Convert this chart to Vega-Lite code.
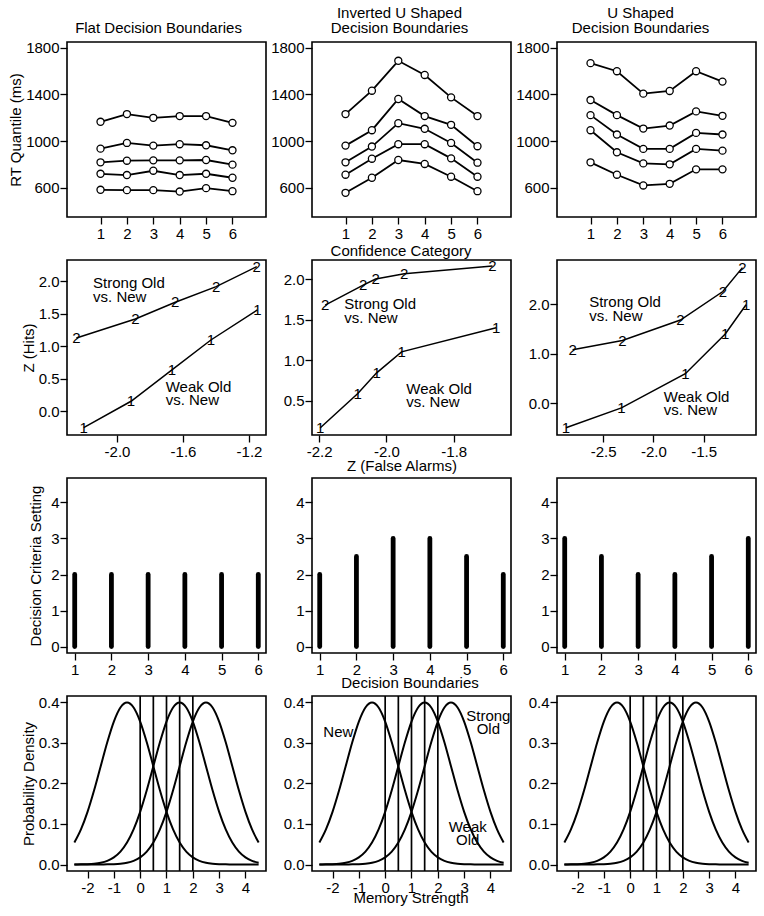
{
"$schema":"https://vega.github.io/schema/vega-lite/v6.json",
"background":"white",
"padding":{"left":7,"top":4,"right":0,"bottom":0},
"columns":3,
"spacing":{"row":43,"column":46},
"bounds":"flush",
"config":{
 "view":{"stroke":"black","strokeWidth":1.6},
 "font":"Liberation Sans",
 "axis":{"domain":false,"grid":false,"ticks":true,"tickColor":"black","tickWidth":1.3,"tickSize":7,"labelFont":"Liberation Sans","labelFontSize":15,"labelColor":"black","labelPadding":2,"labelOverlap":false,"labelFlush":false,"titleFont":"Liberation Sans","titleFontSize":15,"titleFontWeight":"normal","titleColor":"black","titleBaseline":"alphabetic"},
 "axisY":{"labelPadding":1},
 "title":{"font":"Liberation Sans","fontSize":15,"fontWeight":"normal","color":"black","offset":5,"lineHeight":15,"baseline":"bottom","anchor":"middle"},
 "text":{"font":"Liberation Sans","fontSize":15,"color":"black"}
},
"datasets":{
 "rt":[
  {"p":"flat","q":5,"x":1,"y":1165},{"p":"flat","q":5,"x":2,"y":1231},{"p":"flat","q":5,"x":3,"y":1199},{"p":"flat","q":5,"x":4,"y":1214},{"p":"flat","q":5,"x":5,"y":1214},{"p":"flat","q":5,"x":6,"y":1156},
  {"p":"flat","q":4,"x":1,"y":935},{"p":"flat","q":4,"x":2,"y":984},{"p":"flat","q":4,"x":3,"y":961},{"p":"flat","q":4,"x":4,"y":973},{"p":"flat","q":4,"x":5,"y":964},{"p":"flat","q":4,"x":6,"y":921},
  {"p":"flat","q":3,"x":1,"y":818},{"p":"flat","q":3,"x":2,"y":832},{"p":"flat","q":3,"x":3,"y":835},{"p":"flat","q":3,"x":4,"y":835},{"p":"flat","q":3,"x":5,"y":838},{"p":"flat","q":3,"x":6,"y":798},
  {"p":"flat","q":2,"x":1,"y":720},{"p":"flat","q":2,"x":2,"y":709},{"p":"flat","q":2,"x":3,"y":746},{"p":"flat","q":2,"x":4,"y":709},{"p":"flat","q":2,"x":5,"y":720},{"p":"flat","q":2,"x":6,"y":686},
  {"p":"flat","q":1,"x":1,"y":583},{"p":"flat","q":1,"x":2,"y":580},{"p":"flat","q":1,"x":3,"y":580},{"p":"flat","q":1,"x":4,"y":568},{"p":"flat","q":1,"x":5,"y":597},{"p":"flat","q":1,"x":6,"y":571},
  {"p":"inv","q":5,"x":1,"y":1231},{"p":"inv","q":5,"x":2,"y":1431},{"p":"inv","q":5,"x":3,"y":1687},{"p":"inv","q":5,"x":4,"y":1566},{"p":"inv","q":5,"x":5,"y":1374},{"p":"inv","q":5,"x":6,"y":1214},
  {"p":"inv","q":4,"x":1,"y":961},{"p":"inv","q":4,"x":2,"y":1093},{"p":"inv","q":4,"x":3,"y":1360},{"p":"inv","q":4,"x":4,"y":1214},{"p":"inv","q":4,"x":5,"y":1139},{"p":"inv","q":4,"x":6,"y":956},
  {"p":"inv","q":3,"x":1,"y":818},{"p":"inv","q":3,"x":2,"y":953},{"p":"inv","q":3,"x":3,"y":1153},{"p":"inv","q":3,"x":4,"y":1105},{"p":"inv","q":3,"x":5,"y":984},{"p":"inv","q":3,"x":6,"y":815},
  {"p":"inv","q":2,"x":1,"y":712},{"p":"inv","q":2,"x":2,"y":849},{"p":"inv","q":2,"x":3,"y":973},{"p":"inv","q":2,"x":4,"y":973},{"p":"inv","q":2,"x":5,"y":852},{"p":"inv","q":2,"x":6,"y":695},
  {"p":"inv","q":1,"x":1,"y":557},{"p":"inv","q":1,"x":2,"y":686},{"p":"inv","q":1,"x":3,"y":838},{"p":"inv","q":1,"x":4,"y":804},{"p":"inv","q":1,"x":5,"y":695},{"p":"inv","q":1,"x":6,"y":571},
  {"p":"u","q":5,"x":1,"y":1667},{"p":"u","q":5,"x":2,"y":1598},{"p":"u","q":5,"x":3,"y":1406},{"p":"u","q":5,"x":4,"y":1429},{"p":"u","q":5,"x":5,"y":1598},{"p":"u","q":5,"x":6,"y":1509},
  {"p":"u","q":4,"x":1,"y":1351},{"p":"u","q":4,"x":2,"y":1222},{"p":"u","q":4,"x":3,"y":1107},{"p":"u","q":4,"x":4,"y":1133},{"p":"u","q":4,"x":5,"y":1254},{"p":"u","q":4,"x":6,"y":1216},
  {"p":"u","q":3,"x":1,"y":1222},{"p":"u","q":3,"x":2,"y":1056},{"p":"u","q":3,"x":3,"y":933},{"p":"u","q":3,"x":4,"y":933},{"p":"u","q":3,"x":5,"y":1070},{"p":"u","q":3,"x":6,"y":1056},
  {"p":"u","q":2,"x":1,"y":1093},{"p":"u","q":2,"x":2,"y":904},{"p":"u","q":2,"x":3,"y":809},{"p":"u","q":2,"x":4,"y":801},{"p":"u","q":2,"x":5,"y":933},{"p":"u","q":2,"x":6,"y":918},
  {"p":"u","q":1,"x":1,"y":818},{"p":"u","q":1,"x":2,"y":712},{"p":"u","q":1,"x":3,"y":620},{"p":"u","q":1,"x":4,"y":634},{"p":"u","q":1,"x":5,"y":758},{"p":"u","q":1,"x":6,"y":758}
 ],
 "roc":[
  {"p":"flat","c":"2","x":-2.246,"y":1.128},{"p":"flat","c":"2","x":-1.889,"y":1.421},{"p":"flat","c":"2","x":-1.647,"y":1.677},{"p":"flat","c":"2","x":-1.399,"y":1.918},{"p":"flat","c":"2","x":-1.153,"y":2.226},
  {"p":"flat","c":"1","x":-2.202,"y":-0.251},{"p":"flat","c":"1","x":-1.915,"y":0.154},{"p":"flat","c":"1","x":-1.667,"y":0.636},{"p":"flat","c":"1","x":-1.431,"y":1.097},{"p":"flat","c":"1","x":-1.149,"y":1.559},
  {"p":"inv","c":"2","x":-2.182,"y":1.682},{"p":"inv","c":"2","x":-2.069,"y":1.93},{"p":"inv","c":"2","x":-2.032,"y":2.004},{"p":"inv","c":"2","x":-1.947,"y":2.07},{"p":"inv","c":"2","x":-1.685,"y":2.165},
  {"p":"inv","c":"1","x":-2.197,"y":0.161},{"p":"inv","c":"1","x":-2.085,"y":0.587},{"p":"inv","c":"1","x":-2.029,"y":0.843},{"p":"inv","c":"1","x":-1.955,"y":1.103},{"p":"inv","c":"1","x":-1.674,"y":1.401},
  {"p":"u","c":"2","x":-2.804,"y":1.077},{"p":"u","c":"2","x":-2.309,"y":1.264},{"p":"u","c":"2","x":-1.731,"y":1.679},{"p":"u","c":"2","x":-1.309,"y":2.254},{"p":"u","c":"2","x":-1.114,"y":2.736},
  {"p":"u","c":"1","x":-2.87,"y":-0.495},{"p":"u","c":"1","x":-2.318,"y":-0.094},{"p":"u","c":"1","x":-1.682,"y":0.595},{"p":"u","c":"1","x":-1.285,"y":1.398},{"p":"u","c":"1","x":-1.078,"y":1.987}
 ],
 "roclab":[
  {"p":"flat","x":-2.145,"y":2.077,"t":"Strong Old\nvs. New"},{"p":"flat","x":-1.705,"y":0.486,"t":"Weak Old\nvs. New"},
  {"p":"inv","x":-2.125,"y":1.777,"t":"Strong Old\nvs. New"},{"p":"inv","x":-1.941,"y":0.731,"t":"Weak Old\nvs. New"},
  {"p":"u","x":-2.639,"y":2.174,"t":"Strong Old\nvs. New"},{"p":"u","x":-1.896,"y":0.268,"t":"Weak Old\nvs. New"}
 ],
 "crit":[
  {"p":"flat","x":1,"v":2},{"p":"flat","x":2,"v":2},{"p":"flat","x":3,"v":2},{"p":"flat","x":4,"v":2},{"p":"flat","x":5,"v":2},{"p":"flat","x":6,"v":2},
  {"p":"inv","x":1,"v":2},{"p":"inv","x":2,"v":2.5},{"p":"inv","x":3,"v":3},{"p":"inv","x":4,"v":3},{"p":"inv","x":5,"v":2.5},{"p":"inv","x":6,"v":2},
  {"p":"u","x":1,"v":3},{"p":"u","x":2,"v":2.5},{"p":"u","x":3,"v":2},{"p":"u","x":4,"v":2},{"p":"u","x":5,"v":2.5},{"p":"u","x":6,"v":3}
 ],
 "dens":[
  {"d":"new","x":-2.5,"y":0.05399},{"d":"new","x":-2.25,"y":0.08628},{"d":"new","x":-2,"y":0.12952},{"d":"new","x":-1.75,"y":0.18265},{"d":"new","x":-1.5,"y":0.24197},{"d":"new","x":-1.25,"y":0.30114},{"d":"new","x":-1,"y":0.35207},{"d":"new","x":-0.75,"y":0.38667},{"d":"new","x":-0.5,"y":0.39894},{"d":"new","x":-0.25,"y":0.38667},{"d":"new","x":0,"y":0.35207},{"d":"new","x":0.25,"y":0.30114},{"d":"new","x":0.5,"y":0.24197},{"d":"new","x":0.75,"y":0.18265},{"d":"new","x":1,"y":0.12952},{"d":"new","x":1.25,"y":0.08628},{"d":"new","x":1.5,"y":0.05399},{"d":"new","x":1.75,"y":0.03174},{"d":"new","x":2,"y":0.01753},{"d":"new","x":2.25,"y":0.00909},{"d":"new","x":2.5,"y":0.00443},{"d":"new","x":2.75,"y":0.00203},{"d":"new","x":3,"y":0.00087},{"d":"new","x":3.25,"y":0.00035},{"d":"new","x":3.5,"y":0.00013},{"d":"new","x":3.75,"y":0.00005},{"d":"new","x":4,"y":0.00002},{"d":"new","x":4.25,"y":0.000005},{"d":"new","x":4.5,"y":0.0000015},
  {"d":"weak","x":-2.5,"y":0.00013},{"d":"weak","x":-2.25,"y":0.00035},{"d":"weak","x":-2,"y":0.00087},{"d":"weak","x":-1.75,"y":0.00203},{"d":"weak","x":-1.5,"y":0.00443},{"d":"weak","x":-1.25,"y":0.00909},{"d":"weak","x":-1,"y":0.01753},{"d":"weak","x":-0.75,"y":0.03174},{"d":"weak","x":-0.5,"y":0.05399},{"d":"weak","x":-0.25,"y":0.08628},{"d":"weak","x":0,"y":0.12952},{"d":"weak","x":0.25,"y":0.18265},{"d":"weak","x":0.5,"y":0.24197},{"d":"weak","x":0.75,"y":0.30114},{"d":"weak","x":1,"y":0.35207},{"d":"weak","x":1.25,"y":0.38667},{"d":"weak","x":1.5,"y":0.39894},{"d":"weak","x":1.75,"y":0.38667},{"d":"weak","x":2,"y":0.35207},{"d":"weak","x":2.25,"y":0.30114},{"d":"weak","x":2.5,"y":0.24197},{"d":"weak","x":2.75,"y":0.18265},{"d":"weak","x":3,"y":0.12952},{"d":"weak","x":3.25,"y":0.08628},{"d":"weak","x":3.5,"y":0.05399},{"d":"weak","x":3.75,"y":0.03174},{"d":"weak","x":4,"y":0.01753},{"d":"weak","x":4.25,"y":0.00909},{"d":"weak","x":4.5,"y":0.00443},
  {"d":"strong","x":-2.5,"y":0.0000015},{"d":"strong","x":-2.25,"y":0.000005},{"d":"strong","x":-2,"y":0.000016},{"d":"strong","x":-1.75,"y":0.00005},{"d":"strong","x":-1.5,"y":0.00013},{"d":"strong","x":-1.25,"y":0.00035},{"d":"strong","x":-1,"y":0.00087},{"d":"strong","x":-0.75,"y":0.00203},{"d":"strong","x":-0.5,"y":0.00443},{"d":"strong","x":-0.25,"y":0.00909},{"d":"strong","x":0,"y":0.01753},{"d":"strong","x":0.25,"y":0.03174},{"d":"strong","x":0.5,"y":0.05399},{"d":"strong","x":0.75,"y":0.08628},{"d":"strong","x":1,"y":0.12952},{"d":"strong","x":1.25,"y":0.18265},{"d":"strong","x":1.5,"y":0.24197},{"d":"strong","x":1.75,"y":0.30114},{"d":"strong","x":2,"y":0.35207},{"d":"strong","x":2.25,"y":0.38667},{"d":"strong","x":2.5,"y":0.39894},{"d":"strong","x":2.75,"y":0.38667},{"d":"strong","x":3,"y":0.35207},{"d":"strong","x":3.25,"y":0.30114},{"d":"strong","x":3.5,"y":0.24197},{"d":"strong","x":3.75,"y":0.18265},{"d":"strong","x":4,"y":0.12952},{"d":"strong","x":4.25,"y":0.08628},{"d":"strong","x":4.5,"y":0.05399}
 ],
 "bounds":[{"x":0},{"x":0.5},{"x":1},{"x":1.5},{"x":2}],
 "denslab":[{"x":-1.78,"y":0.3425,"t":"New"},{"x":3.92,"y":0.3836,"t":"Strong\nOld"},{"x":3.135,"y":0.1084,"t":"Weak\nOld"}]
},
"concat":[
 {"width":199,"height":175,"title":{"text":"Flat Decision Boundaries","dx":-8},
  "data":{"name":"rt"},"transform":[{"filter":"datum.p==='flat'"}],
  "encoding":{
   "x":{"field":"x","type":"quantitative","scale":{"domain":[-0.27,7.27],"nice":false,"zero":false},"axis":{"values":[1,2,3,4,5,6],"format":"d","title":null}},
   "y":{"field":"y","type":"quantitative","scale":{"domain":[350,1848],"nice":false,"zero":false},"axis":{"values":[600,1000,1400,1800],"format":"d","title":"RT Quantile (ms)","titleX":-47}}},
  "layer":[
   {"mark":{"type":"line","color":"black","strokeWidth":1.8},"encoding":{"detail":{"field":"q","type":"nominal"}}},
   {"mark":{"type":"point","shape":"circle","filled":true,"fill":"white","stroke":"black","strokeWidth":1.3,"size":50,"opacity":1}}
  ]},
 {"width":199,"height":175,"title":{"text":["Inverted U Shaped","Decision Boundaries"],"dx":-12},
  "data":{"name":"rt"},"transform":[{"filter":"datum.p==='inv'"}],
  "encoding":{
   "x":{"field":"x","type":"quantitative","scale":{"domain":[-0.27,7.27],"nice":false,"zero":false},"axis":{"values":[1,2,3,4,5,6],"format":"d","title":"Confidence Category","titleX":88.5,"titleY":38}},
   "y":{"field":"y","type":"quantitative","scale":{"domain":[350,1848],"nice":false,"zero":false},"axis":{"values":[600,1000,1400,1800],"format":"d","title":null}}},
  "layer":[
   {"mark":{"type":"line","color":"black","strokeWidth":1.8},"encoding":{"detail":{"field":"q","type":"nominal"}}},
   {"mark":{"type":"point","shape":"circle","filled":true,"fill":"white","stroke":"black","strokeWidth":1.3,"size":50,"opacity":1}}
  ]},
 {"width":199,"height":175,"title":{"text":["U Shaped","Decision Boundaries"],"dx":-16},
  "data":{"name":"rt"},"transform":[{"filter":"datum.p==='u'"}],
  "encoding":{
   "x":{"field":"x","type":"quantitative","scale":{"domain":[-0.27,7.27],"nice":false,"zero":false},"axis":{"values":[1,2,3,4,5,6],"format":"d","title":null}},
   "y":{"field":"y","type":"quantitative","scale":{"domain":[350,1848],"nice":false,"zero":false},"axis":{"values":[600,1000,1400,1800],"format":"d","title":null}}},
  "layer":[
   {"mark":{"type":"line","color":"black","strokeWidth":1.8},"encoding":{"detail":{"field":"q","type":"nominal"}}},
   {"mark":{"type":"point","shape":"circle","filled":true,"fill":"white","stroke":"black","strokeWidth":1.3,"size":50,"opacity":1}}
  ]},
 {"width":199,"height":175,
  "encoding":{
   "x":{"field":"x","type":"quantitative","scale":{"domain":[-2.303,-1.097],"nice":false,"zero":false},"axis":{"values":[-2.0,-1.6,-1.2],"format":".1f","labelExpr":"replace(datum.label,'\u2212','-')","title":null}},
   "y":{"field":"y","type":"quantitative","scale":{"domain":[-0.365,2.328],"nice":false,"zero":false},"axis":{"values":[0,0.5,1,1.5,2],"format":".1f","title":"Z (Hits)","titleX":-33.7}}},
  "layer":[
   {"data":{"name":"roc"},"transform":[{"filter":"datum.p==='flat'"}],"mark":{"type":"line","color":"black","strokeWidth":1.5},"encoding":{"detail":{"field":"c","type":"nominal"}}},
   {"data":{"name":"roc"},"transform":[{"filter":"datum.p==='flat'"}],"mark":{"type":"text","align":"center","baseline":"middle"},"encoding":{"text":{"field":"c","type":"nominal"}}},
   {"data":{"name":"roclab"},"transform":[{"filter":"datum.p==='flat'"}],"mark":{"type":"text","align":"left","baseline":"top","lineBreak":"\n","lineHeight":13.4},"encoding":{"text":{"field":"t","type":"nominal"}}}
  ]},
 {"width":199,"height":175,
  "encoding":{
   "x":{"field":"x","type":"quantitative","scale":{"domain":[-2.221,-1.63],"nice":false,"zero":false},"axis":{"values":[-2.2,-2.0,-1.8],"format":".1f","labelExpr":"replace(datum.label,'\u2212','-')","title":"Z (False Alarms)","titleX":89.5,"titleY":35}},
   "y":{"field":"y","type":"quantitative","scale":{"domain":[0.074,2.24],"nice":false,"zero":false},"axis":{"values":[0.5,1,1.5,2],"format":".1f","title":null}}},
  "layer":[
   {"data":{"name":"roc"},"transform":[{"filter":"datum.p==='inv'"}],"mark":{"type":"line","color":"black","strokeWidth":1.5},"encoding":{"detail":{"field":"c","type":"nominal"}}},
   {"data":{"name":"roc"},"transform":[{"filter":"datum.p==='inv'"}],"mark":{"type":"text","align":"center","baseline":"middle"},"encoding":{"text":{"field":"c","type":"nominal"}}},
   {"data":{"name":"roclab"},"transform":[{"filter":"datum.p==='inv'"}],"mark":{"type":"text","align":"left","baseline":"top","lineBreak":"\n","lineHeight":13.4},"encoding":{"text":{"field":"t","type":"nominal"}}}
  ]},
 {"width":199,"height":175,
  "encoding":{
   "x":{"field":"x","type":"quantitative","scale":{"domain":[-2.959,-0.979],"nice":false,"zero":false},"axis":{"values":[-2.5,-2.0,-1.5],"format":".1f","labelExpr":"replace(datum.label,'\u2212','-')","title":null}},
   "y":{"field":"y","type":"quantitative","scale":{"domain":[-0.642,2.89],"nice":false,"zero":false},"axis":{"values":[0,1,2],"format":".1f","title":null}}},
  "layer":[
   {"data":{"name":"roc"},"transform":[{"filter":"datum.p==='u'"}],"mark":{"type":"line","color":"black","strokeWidth":1.5},"encoding":{"detail":{"field":"c","type":"nominal"}}},
   {"data":{"name":"roc"},"transform":[{"filter":"datum.p==='u'"}],"mark":{"type":"text","align":"center","baseline":"middle"},"encoding":{"text":{"field":"c","type":"nominal"}}},
   {"data":{"name":"roclab"},"transform":[{"filter":"datum.p==='u'"}],"mark":{"type":"text","align":"left","baseline":"top","lineBreak":"\n","lineHeight":13.4},"encoding":{"text":{"field":"t","type":"nominal"}}}
  ]},
 {"width":199,"height":175,
  "data":{"name":"crit"},"transform":[{"filter":"datum.p==='flat'"}],
  "mark":{"type":"rule","color":"black","strokeWidth":4.8,"strokeCap":"round"},
  "encoding":{
   "x":{"field":"x","type":"quantitative","scale":{"domain":[0.79,6.21],"nice":false,"zero":false},"axis":{"values":[1,2,3,4,5,6],"format":"d","title":null}},
   "y":{"field":"v","type":"quantitative","scale":{"domain":[-0.18,4.68],"nice":false,"zero":false},"axis":{"values":[0,1,2,3,4],"format":"d","title":"Decision Criteria Setting","titleX":-27}},
   "y2":{"datum":0}}},
 {"width":199,"height":175,
  "data":{"name":"crit"},"transform":[{"filter":"datum.p==='inv'"}],
  "mark":{"type":"rule","color":"black","strokeWidth":4.8,"strokeCap":"round"},
  "encoding":{
   "x":{"field":"x","type":"quantitative","scale":{"domain":[0.79,6.21],"nice":false,"zero":false},"axis":{"values":[1,2,3,4,5,6],"format":"d","title":"Decision Boundaries","titleX":97.5,"titleY":34}},
   "y":{"field":"v","type":"quantitative","scale":{"domain":[-0.18,4.68],"nice":false,"zero":false},"axis":{"values":[0,1,2,3,4],"format":"d","title":null}},
   "y2":{"datum":0}}},
 {"width":199,"height":175,
  "data":{"name":"crit"},"transform":[{"filter":"datum.p==='u'"}],
  "mark":{"type":"rule","color":"black","strokeWidth":4.8,"strokeCap":"round"},
  "encoding":{
   "x":{"field":"x","type":"quantitative","scale":{"domain":[0.79,6.21],"nice":false,"zero":false},"axis":{"values":[1,2,3,4,5,6],"format":"d","title":null}},
   "y":{"field":"v","type":"quantitative","scale":{"domain":[-0.18,4.68],"nice":false,"zero":false},"axis":{"values":[0,1,2,3,4],"format":"d","title":null}},
   "y2":{"datum":0}}},
 {"width":199,"height":175,
  "encoding":{
   "x":{"field":"x","type":"quantitative","scale":{"domain":[-2.78,4.78],"nice":false,"zero":false},"axis":{"values":[-2,-1,0,1,2,3,4],"format":"d","labelExpr":"replace(datum.label,'\u2212','-')","title":null}}},
  "layer":[
   {"data":{"name":"dens"},"mark":{"type":"line","color":"black","strokeWidth":2,"interpolate":"monotone"},
    "encoding":{"y":{"field":"y","type":"quantitative","scale":{"domain":[-0.016,0.415],"nice":false,"zero":false},"axis":{"values":[0,0.1,0.2,0.3,0.4],"format":".1f","title":"Probability Density","titleX":-33.7}},"detail":{"field":"d","type":"nominal"}}},
   {"data":{"name":"bounds"},"mark":{"type":"rule","color":"black","strokeWidth":1.7},"encoding":{}}
  ]},
 {"width":199,"height":175,
  "encoding":{
   "x":{"field":"x","type":"quantitative","scale":{"domain":[-2.78,4.78],"nice":false,"zero":false},"axis":{"values":[-2,-1,0,1,2,3,4],"format":"d","labelExpr":"replace(datum.label,'\u2212','-')","title":"Memory Strength","titleX":98.5,"titleY":31}}},
  "layer":[
   {"data":{"name":"dens"},"mark":{"type":"line","color":"black","strokeWidth":2,"interpolate":"monotone"},
    "encoding":{"y":{"field":"y","type":"quantitative","scale":{"domain":[-0.016,0.415],"nice":false,"zero":false},"axis":{"values":[0,0.1,0.2,0.3,0.4],"format":".1f","title":null}},"detail":{"field":"d","type":"nominal"}}},
   {"data":{"name":"bounds"},"mark":{"type":"rule","color":"black","strokeWidth":1.7},"encoding":{}},
   {"data":{"name":"denslab"},"mark":{"type":"text","align":"center","baseline":"top","lineBreak":"\n","lineHeight":13},
    "encoding":{"y":{"field":"y","type":"quantitative","scale":{"domain":[-0.016,0.415],"nice":false,"zero":false},"axis":{"values":[0,0.1,0.2,0.3,0.4],"format":".1f","title":null}},"text":{"field":"t","type":"nominal"}}}
  ]},
 {"width":199,"height":175,
  "encoding":{
   "x":{"field":"x","type":"quantitative","scale":{"domain":[-2.78,4.78],"nice":false,"zero":false},"axis":{"values":[-2,-1,0,1,2,3,4],"format":"d","labelExpr":"replace(datum.label,'\u2212','-')","title":null}}},
  "layer":[
   {"data":{"name":"dens"},"mark":{"type":"line","color":"black","strokeWidth":2,"interpolate":"monotone"},
    "encoding":{"y":{"field":"y","type":"quantitative","scale":{"domain":[-0.016,0.415],"nice":false,"zero":false},"axis":{"values":[0,0.1,0.2,0.3,0.4],"format":".1f","title":null}},"detail":{"field":"d","type":"nominal"}}},
   {"data":{"name":"bounds"},"mark":{"type":"rule","color":"black","strokeWidth":1.7},"encoding":{}}
  ]}
]
}
